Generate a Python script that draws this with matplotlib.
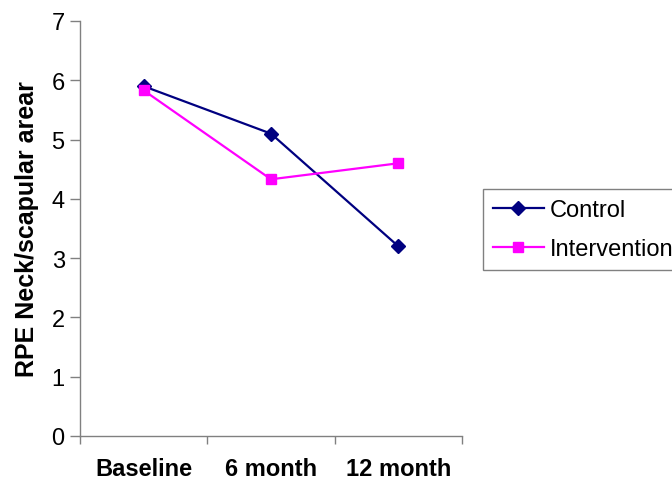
import matplotlib
matplotlib.use("Agg")
import matplotlib.pyplot as plt
import numpy as np

categories = ["Baseline", "6 month", "12 month"]
control = [5.9, 5.1, 3.2]
intervention = [5.83, 4.33, 4.6]

plt.rcParams['font.family'] = ['Liberation Sans', 'DejaVu Sans']

fig = plt.figure(figsize=(6.72, 4.81), dpi=100)
ax = fig.add_axes([80/672, 44/481, (462-80)/672, (437-22)/481])

x = np.arange(len(categories))
ax.plot(x, control, color='#000080', lw=1.6, marker='D', markersize=7, label='Control', zorder=3)
ax.plot(x, intervention, color='#FF00FF', lw=1.6, marker='s', markersize=7.5, label='Intervention', zorder=4)

ax.set_xlim(-0.5, 2.5)
ax.set_ylim(0, 7)
ax.set_yticks(range(0, 8))
ax.set_xticks(x)
ax.set_xticklabels(categories, fontsize=17, fontweight='bold')
ax.set_xticks([-0.5, 0.5, 1.5, 2.5], minor=True)
ax.tick_params(axis='x', which='major', length=0, pad=15)
ax.tick_params(axis='x', which='minor', length=6, width=1, color='#808080', direction='out')
ax.tick_params(axis='y', labelsize=17, length=7, width=1, color='#808080', pad=4)
for s in ['top', 'right']:
    ax.spines[s].set_visible(False)
for s in ['left', 'bottom']:
    ax.spines[s].set_color('#808080')
    ax.spines[s].set_linewidth(1)
ax.set_ylabel('RPE Neck/scapular arear', fontsize=18, fontweight='bold', labelpad=9)

leg = fig.legend(loc='upper left', bbox_to_anchor=(483/672, (481-190)/481), fontsize=17,
                 frameon=True, fancybox=False, edgecolor='#808080', framealpha=1,
                 handlelength=2.15, handletextpad=0.25, borderpad=0.42, labelspacing=0.72,
                 borderaxespad=0)
leg.get_frame().set_linewidth(1)

fig.savefig('out.png', dpi=100)
